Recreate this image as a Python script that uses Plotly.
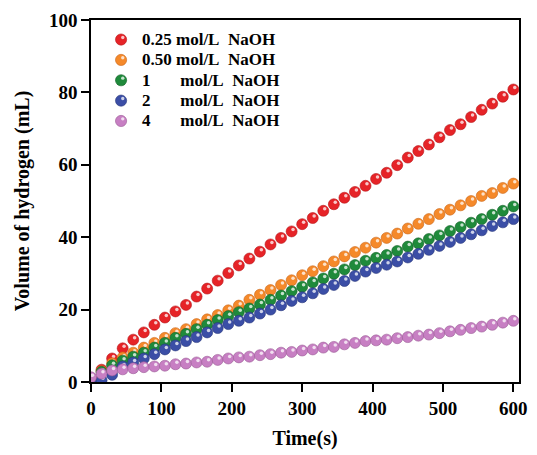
import plotly.graph_objects as go

time_s = [0, 15, 30, 45, 60, 75, 90, 105, 120, 135, 150, 165, 180, 195, 210, 225, 240,
          255, 270, 285, 300, 315, 330, 345, 360, 375, 390, 405, 420, 435, 450, 465, 480,
          495, 510, 525, 540, 555, 570, 585, 600]

naoh_025 = [1.0, 3.4, 6.5, 9.3, 11.7, 13.7, 15.8, 17.8, 19.5, 21.3, 23.6, 25.8, 28.0, 30.1,
            32.2, 34.1, 36.0, 38.0, 39.8, 41.6, 43.6, 45.3, 47.3, 49.1, 50.9, 52.5, 54.2,
            56.1, 57.8, 59.9, 62.0, 63.8, 65.6, 67.6, 69.6, 71.2, 73.2, 75.2, 76.9, 78.8, 80.8]
naoh_050 = [0.8, 3.0, 5.2, 6.8, 8.1, 9.5, 10.8, 12.2, 13.5, 14.6, 16.0, 17.3, 18.5, 19.8,
            21.1, 22.7, 24.1, 25.4, 26.8, 28.1, 29.5, 30.6, 32.0, 33.3, 34.7, 35.9, 37.1,
            38.5, 39.8, 41.0, 42.4, 43.7, 45.0, 46.4, 47.6, 48.8, 50.0, 51.4, 52.2, 53.6, 54.8]
naoh_1 = [0.7, 2.8, 4.6, 5.9, 7.0, 8.1, 9.5, 10.8, 12.2, 13.3, 14.6, 15.8, 17.1, 18.2,
          19.3, 20.3, 21.4, 22.7, 23.9, 25.1, 26.3, 27.5, 28.6, 29.9, 31.1, 32.3, 33.5,
          34.3, 35.1, 36.2, 37.4, 38.3, 39.5, 40.5, 41.7, 42.8, 44.0, 45.0, 46.2, 47.3, 48.5]
naoh_2 = [0.0, 0.5, 2.0, 4.3, 5.4, 6.5, 7.7, 9.0, 10.1, 11.3, 12.4, 13.7, 14.9, 16.0,
          16.9, 17.8, 18.9, 20.0, 21.2, 22.4, 23.4, 24.5, 25.7, 26.8, 27.9, 29.3, 30.5,
          31.5, 32.4, 33.3, 34.4, 35.4, 36.5, 37.6, 38.7, 39.8, 40.8, 41.9, 43.1, 44.1, 45.0]
naoh_4 = [1.3, 2.3, 3.2, 3.5, 3.8, 4.1, 4.3, 4.5, 4.9, 5.1, 5.4, 5.6, 6.1, 6.5,
          6.8, 7.0, 7.4, 7.7, 8.1, 8.3, 8.7, 9.0, 9.5, 9.7, 10.4, 10.8, 11.3,
          11.5, 11.7, 12.1, 12.4, 12.8, 13.1, 13.5, 14.0, 14.4, 14.9, 15.3, 15.8, 16.4, 16.9]

series_conc = ["0.25", "0.50", "1", "2", "4"]
series_values = [naoh_025, naoh_050, naoh_1, naoh_2, naoh_4]
colors = ["#e62327", "#f5892a", "#1f8a3b", "#3b4ea6", "#c77fc3"]
edge_colors = ["#b5151a", "#c9661a", "#146228", "#27367a", "#9a5a96"]

FONT = "Times New Roman, Liberation Serif, serif"
NB = "\u00a0"

fig = go.Figure()
for conc, vals, c, ec in zip(series_conc, series_values, colors, edge_colors):
    fig.add_trace(go.Scatter(
        x=time_s, y=vals, name=f"{conc} mol/L NaOH", mode="markers", showlegend=False,
        marker=dict(size=11, color=c, line=dict(color=ec, width=0.6)),
    ))
    # specular highlight on each ball
    fig.add_trace(go.Scatter(
        x=[t + 2.0 for t in time_s], y=[v + 0.55 for v in vals],
        mode="markers", showlegend=False, hoverinfo="skip",
        marker=dict(size=3.5, color="rgba(255,255,255,0.75)"),
    ))

# legend drawn in the top-left corner (symbol + label per series)
PLOT_L, PLOT_W, PLOT_B, PLOT_H = 91, 437, 390, 370
legend_rows_px = [40, 60.8, 81.6, 102.4, 123.2]
shapes = []
annotations = []
for conc, c, ec, ry in zip(series_conc, colors, edge_colors, legend_rows_px):
    yp = (PLOT_B - ry) / PLOT_H
    xm = (121.7 - PLOT_L) / PLOT_W
    shapes.append(dict(type="circle", xref="paper", yref="paper",
                       xsizemode="pixel", ysizemode="pixel", xanchor=xm, yanchor=yp,
                       x0=-5.6, x1=5.6, y0=-5.6, y1=5.6,
                       fillcolor=c, line=dict(color=ec, width=0.6)))
    shapes.append(dict(type="circle", xref="paper", yref="paper",
                       xsizemode="pixel", ysizemode="pixel", xanchor=xm, yanchor=yp,
                       x0=0.0, x1=3.4, y0=0.4, y1=3.8,
                       fillcolor="rgba(255,255,255,0.75)", line=dict(width=0)))
    pad = NB * 2 if len(conc) > 1 else NB * 7
    if len(conc) > 1:
        label = conc + " mol/L" + NB * 2 + "NaOH"
    else:
        label = conc + pad + "mol/L" + NB * 2 + "NaOH"
    annotations.append(dict(text=label, xref="paper", yref="paper",
                            x=(141.5 - PLOT_L) / PLOT_W, y=yp, xanchor="left",
                            yanchor="middle", showarrow=False,
                            font=dict(family=FONT, size=17, color="black", weight="bold")))

axis_common = dict(
    showline=True, linecolor="black", linewidth=1.6, mirror=True,
    ticks="outside", ticklen=8, tickwidth=1.5, tickcolor="black",
    showgrid=False, zeroline=False,
    tickfont=dict(family=FONT, size=19, color="black", weight="bold"),
)

fig.update_layout(
    width=537, height=455,
    margin=dict(l=91, r=9, t=20, b=65),
    paper_bgcolor="white", plot_bgcolor="white",
    font=dict(family=FONT, color="black"),
    xaxis=dict(range=[0, 608], tickvals=[0, 100, 200, 300, 400, 500, 600],
               title=dict(text="Time(s)", font=dict(family=FONT, size=20, weight="bold"),
                          standoff=13),
               **axis_common),
    yaxis=dict(range=[0, 100], tickvals=[0, 20, 40, 60, 80, 100],
               title=dict(text="Volume of hydrogen (mL)",
                          font=dict(family=FONT, size=20, weight="bold"), standoff=14),
               **axis_common),
    shapes=shapes,
    annotations=annotations,
    showlegend=False,
)

fig.write_html("out.html")
